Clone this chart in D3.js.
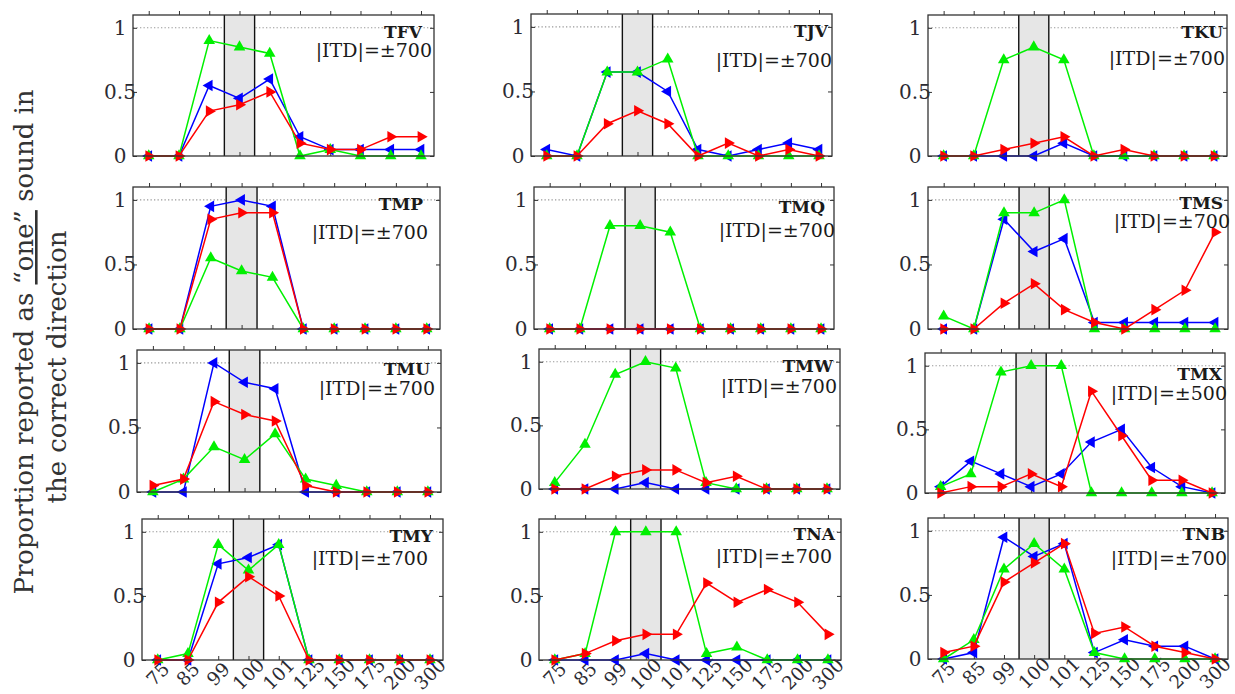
<!DOCTYPE html>
<html><head><meta charset="utf-8">
<script src="https://cdn.jsdelivr.net/npm/d3@7"></script>
<style>body{margin:0;background:#fff}</style>
</head><body>
<svg id="c" width="1235" height="694"></svg>
<script>
// ---------- data ----------
const categories = ["75","85","99","100","101","125","150","175","200","300"];
const yTickValues = [0, 0.5, 1];
const yTickLabels = ["0", "0.5", "1"];
const subjects = ["TFV","TJV","TKU","TMP","TMQ","TMS","TMU","TMW","TMX","TMY","TNA","TNB"];
const itdLabels = ["|ITD|=±700","|ITD|=±700","|ITD|=±700","|ITD|=±700","|ITD|=±700","|ITD|=±700",
                   "|ITD|=±700","|ITD|=±700","|ITD|=±500","|ITD|=±700","|ITD|=±700","|ITD|=±700"];
const blueValues = [
  [0,0,0.55,0.45,0.6,0.15,0.05,0.05,0.05,0.05],   // TFV
  [0.05,0,0.65,0.65,0.5,0.05,0,0.05,0.1,0.05],    // TJV
  [0,0,0,0,0.1,0,0,0,0,0],                        // TKU
  [0,0,0.95,1,0.95,0,0,0,0,0],                    // TMP
  [0,0,0,0,0,0,0,0,0,0],                          // TMQ
  [0,0,0.85,0.6,0.7,0.05,0.05,0.05,0.05,0.05],    // TMS
  [0,0,1,0.85,0.8,0,0,0,0,0],                     // TMU
  [0,0,0,0.05,0,0,0,0,0,0],                       // TMW
  [0.05,0.25,0.15,0.05,0.15,0.4,0.5,0.2,0.05,0],  // TMX
  [0,0,0.75,0.8,0.9,0,0,0,0,0],                   // TMY
  [0,0,0,0.05,0,0,0,0,0,0],                       // TNA
  [0,0.05,0.95,0.8,0.9,0.05,0.15,0.1,0.1,0]       // TNB
];
const greenValues = [
  [0,0,0.9,0.85,0.8,0,0.05,0,0,0],
  [0,0,0.65,0.65,0.75,0,0,0,0,0],
  [0,0,0.75,0.85,0.75,0,0,0,0,0],
  [0,0,0.55,0.45,0.4,0,0,0,0,0],
  [0,0,0.8,0.8,0.75,0,0,0,0,0],
  [0.1,0,0.9,0.9,1,0,0,0,0,0],
  [0,0.1,0.35,0.25,0.45,0.1,0.05,0,0,0],
  [0.05,0.35,0.9,1,0.95,0.05,0,0,0,0],
  [0.05,0.15,0.95,1,1,0,0,0,0,0],
  [0,0.05,0.9,0.7,0.9,0,0,0,0,0],
  [0,0.05,1,1,1,0.05,0.1,0,0,0],
  [0,0.15,0.7,0.9,0.7,0.05,0,0,0,0]
];
const redValues = [
  [0,0,0.35,0.4,0.5,0.1,0.05,0.05,0.15,0.15],
  [0,0,0.25,0.35,0.25,0,0.1,0,0.05,0],
  [0,0,0.05,0.1,0.15,0,0.05,0,0,0],
  [0,0,0.85,0.9,0.9,0,0,0,0,0],
  [0,0,0,0,0,0,0,0,0,0],
  [0,0,0.2,0.35,0.15,0.05,0,0.15,0.3,0.75],
  [0.05,0.1,0.7,0.6,0.55,0.05,0,0,0,0],
  [0,0,0.1,0.15,0.15,0.05,0.1,0,0,0],
  [0,0.05,0.05,0.15,0.05,0.8,0.45,0.1,0.1,0],
  [0,0,0.45,0.65,0.5,0,0,0,0,0],
  [0,0.05,0.15,0.2,0.2,0.6,0.45,0.55,0.45,0.2],
  [0.05,0.1,0.6,0.75,0.9,0.2,0.25,0.1,0.05,0]
];

// ---------- layout ----------
// frame [left, top, right, bottom], title baseline offset, itd baseline offset, title right inset, itd right inset
const frames = [
  [133,15,434,156, 23,42, 12,2],
  [531,14,832,156, 23,53, 4,0],
  [928,15,1227,156, 23,50, 4,2],
  [133,187,440,329, 23,52, 17,12],
  [534,187,834,329, 26,50, 9,-1],
  [928,187,1228,329, 22,41, 5,-2],
  [137,350,441,492, 25,45, 11,6],
  [539,349,840,489, 23,44, 7,3],
  [925,353,1225,493, 27,47, 3,-2],
  [142,519,443,660, 23,46, 10,15],
  [539,519,841,660, 21,44, 6,9],
  [928,518,1228,659, 22,47, 3,1]
];
const serif = "'DejaVu Serif', serif";
const svg = d3.select("#c");

const series = [
  {vals: blueValues,  color: "#0000ff", rot: -90},
  {vals: greenValues, color: "#00f000", rot: 0},
  {vals: redValues,   color: "#ff0000", rot: 90}
];
const tri = d3.symbol(d3.symbolTriangle, 58);

subjects.forEach((name, k) => {
  const [L,T,R,B,tdy,idy,tri1,iri] = frames[k];
  const x = d3.scaleLinear().domain([-0.52, 9.43]).range([L, R]);
  const y = d3.scaleLinear().domain([0, 1.1]).range([B, T]);
  const g = svg.append("g");

  g.append("line").attr("x1", L).attr("x2", R).attr("y1", y(1)).attr("y2", y(1))
    .attr("stroke", "#999").attr("stroke-width", 1.1).attr("stroke-dasharray", "1.3,2.2");

  g.append("rect").attr("x", x(2.5)).attr("y", T).attr("width", x(3.5) - x(2.5)).attr("height", B - T)
    .attr("fill", "#e6e6e6");
  [2.5, 3.5].forEach(v => g.append("line").attr("x1", x(v)).attr("x2", x(v)).attr("y1", T).attr("y2", B)
    .attr("stroke", "#111").attr("stroke-width", 1.4));

  const idx = d3.range(categories.length);
  const styleAxis = sel => { sel.select(".domain").remove(); sel.selectAll("text").remove();
    sel.selectAll("line").attr("stroke", "#333").attr("stroke-width", 1); };
  g.append("g").attr("transform", `translate(0,${T})`).call(d3.axisTop(x).tickValues(idx).tickSize(4)).call(styleAxis);
  g.append("g").attr("transform", `translate(0,${B})`).call(d3.axisBottom(x).tickValues(idx).tickSize(-4)).call(styleAxis);
  g.append("g").attr("transform", `translate(${L},0)`).call(d3.axisLeft(y).tickValues(yTickValues).tickSize(-4)).call(styleAxis);
  g.append("g").attr("transform", `translate(${R},0)`).call(d3.axisRight(y).tickValues(yTickValues).tickSize(-4)).call(styleAxis);

  yTickValues.forEach((v, i) => g.append("text").attr("x", L - 13).attr("y", y(v))
    .attr("text-anchor", "middle").attr("dominant-baseline", "central")
    .attr("font-family", serif).attr("font-size", 20).attr("fill", "#2b2b33").text(yTickLabels[i]));

  if (k >= 9) {
    categories.forEach((c, i) => {
      const cx = x(i), cy = B + 14;
      g.append("text").attr("x", cx).attr("y", cy).attr("transform", `rotate(-45,${cx},${cy})`)
        .attr("text-anchor", "middle").attr("dominant-baseline", "central")
        .attr("font-family", serif).attr("font-size", 18.5).attr("fill", "#2b2b33").text(c);
    });
  }

  const line = d3.line().x((d, i) => x(i)).y(d => y(d));
  series.forEach(s => {
    const vals = s.vals[k];
    g.append("path").attr("d", line(vals)).attr("fill", "none").attr("stroke", s.color).attr("stroke-width", 1.5);
    g.selectAll(null).data(vals).enter().append("path")
      .attr("d", tri).attr("fill", s.color)
      .attr("transform", (d, i) => `translate(${x(i)},${y(d)}) rotate(${s.rot})`);
  });

  g.append("rect").attr("x", L).attr("y", T).attr("width", R - L).attr("height", B - T)
    .attr("fill", "none").attr("stroke", "#333").attr("stroke-width", 1.3);

  g.append("text").attr("x", R - tri1).attr("y", T + tdy).attr("text-anchor", "end")
    .attr("font-family", serif).attr("font-weight", "bold").attr("font-size", 17).attr("fill", "#1a1a1a").text(name);
  g.append("text").attr("x", R - iri).attr("y", T + idy).attr("text-anchor", "end")
    .attr("font-family", serif).attr("font-size", 19).attr("fill", "#1a1a1a").text(itdLabels[k]);
});

// y axis title
const yl1 = svg.append("text").attr("transform", "translate(33,342) rotate(-90)")
  .attr("text-anchor", "middle").attr("font-family", serif).attr("font-size", 26).attr("fill", "#333");
yl1.append("tspan").text("Proportion reported as ");
yl1.append("tspan").attr("text-decoration", "underline").text("“one”");
yl1.append("tspan").text(" sound in");
svg.append("text").attr("transform", "translate(66,367) rotate(-90)")
  .attr("text-anchor", "middle").attr("font-family", serif).attr("font-size", 26).attr("fill", "#333")
  .text("the correct direction");
</script>
</body></html>
